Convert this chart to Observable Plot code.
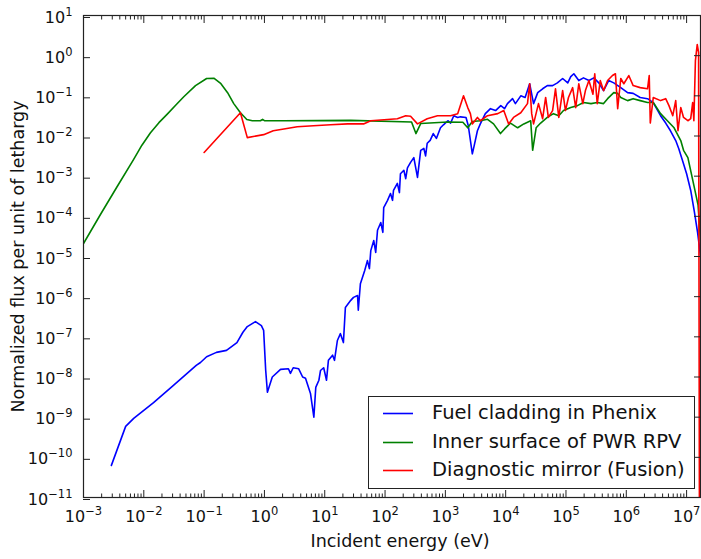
<!DOCTYPE html>
<html>
<head>
<meta charset="utf-8">
<script src="https://cdn.jsdelivr.net/npm/d3@7"></script>
<script src="https://cdn.jsdelivr.net/npm/@observablehq/plot@0.6"></script>
<style>
  html, body { margin: 0; padding: 0; background: #fff; }
  #wrap { position: relative; width: 701px; height: 559px; font-family: "DejaVu Sans", sans-serif; color: #111; }
  #legend { position: absolute; left: 368px; top: 396px; width: 327px; height: 93px; box-sizing: border-box;
            border: 1.2px solid #222; background: #fff; font-size: 19.5px; }
  #legend .row { position: absolute; left: 0; height: 24px; line-height: 24px; white-space: nowrap; }
  #legend svg { position: absolute; left: 14px; top: 11px; }
  #legend span { position: absolute; left: 63px; top: 0; }
</style>
</head>
<body>
<div id="wrap"></div>
<script>
// ---- data: [incident energy (eV), normalized flux per unit of lethargy] ----
const seriesNames = ["Fuel cladding in Phenix", "Inner surface of PWR RPV", "Diagnostic mirror (Fusion)"];
const seriesColors = ["#0000ff", "#008000", "#ff0000"];

const phenix = [
  [2.9e-3,6.3e-11],[5.0e-3,5.9e-10],[6.8e-3,9.3e-10],[1.45e-2,2.3e-9],[3.1e-2,6.2e-9],[7.4e-2,1.95e-8],
  [8.7e-2,2.3e-8],[0.11,3.2e-8],[0.16,4.1e-8],[0.235,4.6e-8],[0.35,7.2e-8],[0.44,1.3e-7],[0.52,1.8e-7],
  [0.71,2.4e-7],[0.89,1.9e-7],[0.97,1.45e-7],[1.05,1.45e-8],[1.12,4.2e-9],[1.35,1e-8],[1.85,1.55e-8],
  [2.5,1.6e-8],[2.7,1.23e-8],[3.0,1.7e-8],[3.7,1.6e-8],[4.3,1e-8],[4.8,9.3e-9],[5.8,3.9e-9],[6.6,1.0e-9],
  [7.1,5.5e-9],[8.0,8.3e-9],[8.5,1.45e-8],[9.6,1.7e-8],[10.7,8.3e-9],[11.5,2.6e-8],[13.5,3.5e-8],
  [14.5,2.6e-8],[16.2,8.1e-8],[18.2,1.2e-7],[20.4,7.2e-8],[22,5.4e-7],[27,8.1e-7],[30,9.6e-7],[35,1.07e-6],
  [36,4.6e-7],[39,2.1e-6],[46,4.5e-6],[51,7.9e-6],[55,5e-6],[58,1.4e-5],[65,2.5e-5],[70,1.26e-5],
  [75,4.5e-5],[85,7e-5],[92,4e-5],[95,1.65e-4],[110,2.5e-4],[123,3.7e-4],[133,2.5e-4],[138,4.4e-4],
  [160,6.6e-4],[173,3.9e-4],[180,1.15e-3],[205,1.4e-3],[220,8.7e-4],[235,1.6e-3],[265,2.2e-3],[300,2.9e-3],
  [345,9.3e-4],[390,4.4e-3],[440,4.9e-3],[470,3.2e-3],[500,6.6e-3],[560,7.8e-3],[630,0.0115],[710,8.7e-3],
  [830,0.016],[930,0.019],[1100,0.024],[1220,0.021],[1380,0.032],[1600,0.029],[1780,0.030],[2200,0.029],
  [2400,0.018],[2800,3.6e-3],[3000,5.7e-3],[3400,0.0135],[3800,0.020],[4600,0.036],[5600,0.048],[6800,0.043],
  [8300,0.057],[9600,0.048],[1.07e4,0.064],[1.3e4,0.085],[1.45e4,0.064],[1.78e4,0.10],[2.1e4,0.091],
  [2.5e4,0.20],[2.9e4,0.064],[3.4e4,0.12],[4.1e4,0.15],[4.9e4,0.18],[6.0e4,0.18],[7.2e4,0.21],[8.8e4,0.27],
  [1.07e5,0.21],[1.2e5,0.30],[1.35e5,0.355],[1.63e5,0.24],[1.95e5,0.28],[2.4e5,0.24],[2.9e5,0.28],[3.5e5,0.21],
  [4.2e5,0.135],[5.1e5,0.24],[6.2e5,0.21],[8.1e5,0.16],[1.05e6,0.12],[1.3e6,0.115],[1.7e6,0.091],[2.25e6,0.085],
  [2.8e6,0.068],[3.7e6,0.032],[4.5e6,0.021],[5.4e6,0.0135],[6.6e6,7.7e-3],[7.4e6,4.9e-3],[8.6e6,2.4e-3],
  [1.0e7,1.15e-3],[1.17e7,4.4e-4],[1.35e7,1.25e-4],[1.52e7,4e-5],[1.7e7,1.07e-5]
];

const pwrRpv = [
  [1e-3,2.1e-5],[1.91e-3,1.11e-4],[3.56e-3,5.3e-4],[6.75e-3,2.59e-3],[9.3e-3,5.9e-3],[1.29e-2,1.2e-2],
  [1.78e-2,2.15e-2],[2.45e-2,3.5e-2],[3.4e-2,5.9e-2],[4.6e-2,0.095],[7.2e-2,0.18],[0.11,0.27],[0.145,0.275],
  [0.19,0.20],[0.245,0.12],[0.31,0.064],[0.40,0.038],
  [0.51,0.0257],[0.63,0.024],[0.86,0.024],[0.93,0.026],[1.0,0.024],[2.1,0.024],[27,0.0245],[275,0.0224],
  [325,0.0115],[390,0.0204],[1100,0.0224],[1950,0.022],[2350,0.016],[2800,0.023],[3800,0.024],[5000,0.026],
  [6300,0.020],[8200,0.0115],[9600,0.015],[1.2e4,0.021],[1.58e4,0.016],[2.0e4,0.020],[2.6e4,0.024],
  [2.8e4,0.0044],[3.2e4,0.016],[3.8e4,0.021],[4.9e4,0.029],[6.2e4,0.036],[7.6e4,0.032],[9.1e4,0.043],
  [1.2e5,0.051],[1.55e5,0.057],[1.95e5,0.068],[2.6e5,0.064],[3.3e5,0.068],[4.2e5,0.064],[4.9e5,0.085],
  [6.2e5,0.12],[7.2e5,0.115],[8.1e5,0.091],[1.05e6,0.076],[1.3e6,0.085],[1.7e6,0.076],[2.25e6,0.068],
  [2.8e6,0.068],[3.7e6,0.036],[4.8e6,0.024],[6.2e6,0.016],[8.0e6,0.0077],[8.9e6,4.4e-3],[1.05e7,2.9e-3],
  [1.32e7,5.9e-4],[1.55e7,1.9e-4],[1.7e7,2.5e-5]
];

const fusionMirror = [
  [0.1,3.9e-3],[0.40,0.038],[0.52,9.1e-3],[0.97,0.0108],[1.4,0.0135],[2.1,0.015],[3.5,0.017],[6.5,0.018],
  [12.5,0.019],[24,0.020],[44,0.020],[58,0.024],[160,0.027],[220,0.032],[265,0.031],[345,0.020],[500,0.027],
  [740,0.032],[1220,0.032],[1600,0.036],[2000,0.10],[2350,0.051],[2600,0.036],[2800,0.020],[3400,0.029],
  [3800,0.024],[5000,0.032],[7400,0.036],[9300,0.043],[1.12e4,0.020],[1.35e4,0.029],[1.78e4,0.038],
  [2.3e4,0.064],[2.5e4,0.20],[2.7e4,0.036],[2.9e4,0.020],[3.5e4,0.064],[4.1e4,0.027],[4.6e4,0.091],
  [5.1e4,0.029],[6.0e4,0.043],[6.7e4,0.15],[7.6e4,0.029],[8.8e4,0.135],[9.8e4,0.043],[1.1e5,0.091],
  [1.29e5,0.16],[1.45e5,0.051],[1.63e5,0.20],[1.9e5,0.064],[2.1e5,0.135],[2.4e5,0.24],[2.8e5,0.11],
  [3.0e5,0.355],[3.3e5,0.064],[3.7e5,0.24],[4.2e5,0.135],[4.9e5,0.24],[5.9e5,0.32],[6.6e5,0.355],
  [7.2e5,0.048],[8.1e5,0.27],[9.1e5,0.20],[1.1e6,0.32],[1.3e6,0.18],[1.7e6,0.16],[2.25e6,0.15],[2.4e6,0.32],
  [2.5e6,0.021],[2.8e6,0.091],[3.7e6,0.076],[4.5e6,0.085],[5.1e6,0.057],[5.9e6,0.032],[6.6e6,0.076],
  [7.2e6,0.0135],[8.0e6,0.051],[8.9e6,0.029],[1.05e7,0.024],[1.17e7,0.027],[1.26e7,0.068],[1.32e7,0.024],
  [1.4e7,0.75],[1.5e7,1.9],[1.58e7,1.2],[1.63e7,1e-11]
];

const xMajorTicks = [1e-3, 1e-2, 1e-1, 1e0, 1e1, 1e2, 1e3, 1e4, 1e5, 1e6, 1e7];
const yMajorTicks = [1e-11, 1e-10, 1e-9, 1e-8, 1e-7, 1e-6, 1e-5, 1e-4, 1e-3, 1e-2, 1e-1, 1e0, 1e1];
const xDomain = [1e-3, 1.7e7];
const yDomain = [1e-11, 10];
const xLabel = "Incident energy (eV)";
const yLabel = "Normalized flux per unit of lethargy";

// ---- build ----
const rows = [];
[phenix, pwrRpv, fusionMirror].forEach((arr, i) => {
  arr.forEach(([energy, flux]) => rows.push({series: seriesNames[i], energy, flux}));
});
const xMinorTicks = xMajorTicks.flatMap(d => [2,3,4,5,6,7,8,9].map(m => m * d)).filter(v => v < xDomain[1]);
const expFormat = d => String(Math.round(Math.log10(d)));

const chart = Plot.plot({
  width: 701, height: 559,
  marginLeft: 83, marginRight: 1, marginTop: 15, marginBottom: 62,
  style: {fontFamily: "'DejaVu Sans', sans-serif", fontSize: "16px", color: "#111", background: "#fff", overflow: "visible"},
  x: {type: "log", domain: xDomain},
  y: {type: "log", domain: yDomain},
  color: {domain: seriesNames, range: seriesColors},
  marks: [
    Plot.line(rows, {x: "energy", y: "flux", z: "series", stroke: "series", strokeWidth: 1.6, clip: true}),
    Plot.frame({stroke: "#222", strokeWidth: 1.2}),
    Plot.axisX({anchor: "bottom", ticks: xMajorTicks, tickSize: -7, tickPadding: 20, tickFormat: expFormat, label: null, stroke: "#222"}),
    Plot.axisX({anchor: "bottom", ticks: xMinorTicks, tickSize: -3.5, fill: "none", label: null, stroke: "#222"}),
    Plot.axisX({anchor: "top", ticks: xMajorTicks, tickSize: -7, fill: "none", label: null, stroke: "#222"}),
    Plot.axisX({anchor: "top", ticks: xMinorTicks, tickSize: -3.5, fill: "none", label: null, stroke: "#222"}),
    Plot.axisY({anchor: "left", ticks: yMajorTicks, tickSize: -7, tickPadding: 18, tickFormat: expFormat, label: null, stroke: "#222", dy: 2}),
    Plot.axisY({anchor: "right", ticks: yMajorTicks, tickSize: -7, fill: "none", label: null, stroke: "#222"}),
    Plot.text([xLabel], {text: d => d, frameAnchor: "bottom", textAnchor: "middle", lineAnchor: "middle", dy: 44, dx: 8, fontSize: 17.5}),
    Plot.text([yLabel], {text: d => d, frameAnchor: "left", textAnchor: "middle", lineAnchor: "middle", rotate: -90, dx: -65, fontSize: 17.5})
  ]
});

// superscript exponents on tick labels
const ns = "http://www.w3.org/2000/svg";
chart.querySelectorAll('[aria-label="x-axis tick label"] text, [aria-label="y-axis tick label"] text').forEach(t => {
  const e = t.textContent.replace("-", "\u2212");
  t.textContent = "";
  const base = document.createElementNS(ns, "tspan");
  base.textContent = "10";
  const sup = document.createElementNS(ns, "tspan");
  sup.setAttribute("dy", "-7");
  sup.setAttribute("font-size", "11.5px");
  sup.textContent = e;
  t.append(base, sup);
});

const wrap = document.getElementById("wrap");
wrap.appendChild(chart);

// legend (inside plot area, lower right)
const legend = document.createElement("div");
legend.id = "legend";
const rowTops = [4, 33, 61];
seriesNames.forEach((name, i) => {
  const r = document.createElement("div");
  r.className = "row";
  r.style.top = rowTops[i] + "px";
  r.innerHTML = `<svg width="30" height="3"><line x1="0" x2="30" y1="1.5" y2="1.5" stroke="${seriesColors[i]}" stroke-width="1.6"/></svg><span>${name}</span>`;
  legend.appendChild(r);
});
wrap.appendChild(legend);
</script>
</body>
</html>
